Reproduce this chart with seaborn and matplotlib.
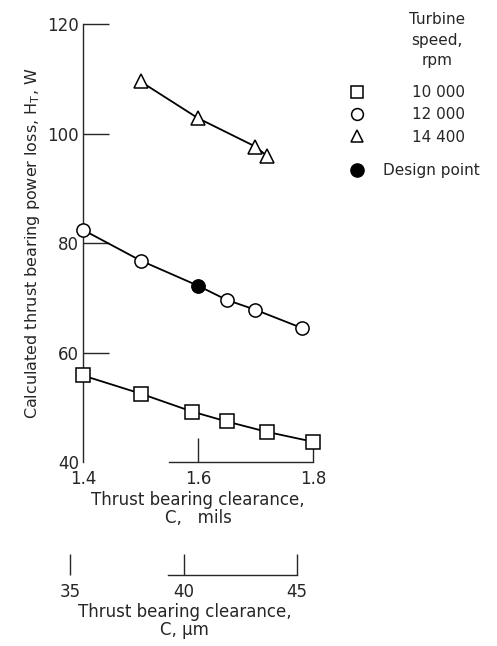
import matplotlib
matplotlib.use("Agg")
import matplotlib.pyplot as plt
from matplotlib.lines import Line2D
import seaborn as sns
import pandas as pd

# values
clearance_10000 = [1.40, 1.50, 1.59, 1.65, 1.72, 1.80]
loss_10000 = [55.8, 52.5, 49.2, 47.4, 45.5, 43.7]
clearance_12000 = [1.40, 1.50, 1.60, 1.65, 1.70, 1.78]
loss_12000 = [82.4, 76.8, 72.2, 69.6, 67.8, 64.5]
clearance_14400 = [1.50, 1.60, 1.70, 1.72]
loss_14400 = [109.5, 102.8, 97.6, 95.9]
design_clearance = [1.60]
design_loss = [72.2]

speed_labels = ["10 000", "12 000", "14 400"]
speed_markers = ["s", "o", "^"]
mils_ticks = [1.4, 1.6, 1.8]
mils_ticklabels = ["1.4", "1.6", "1.8"]
loss_ticks = [40, 60, 80, 100, 120]
um_ticks = [35, 40, 45]
UM_PER_MIL = 25.4

sns.set_style("ticks")
plt.rcParams['font.family'] = ['DejaVu Sans']

fig = plt.figure(figsize=(4.97, 6.46), dpi=100)
ax = fig.add_axes([83 / 497, 1 - 462 / 646, 230 / 497, 438 / 646])

series = [(clearance_10000, loss_10000), (clearance_12000, loss_12000), (clearance_14400, loss_14400)]
for (xs, ys), lab, mk in zip(series, speed_labels, speed_markers):
    df = pd.DataFrame({"clearance": xs, "loss": ys})
    sns.lineplot(data=df, x="clearance", y="loss", ax=ax, color="black", lw=1.3,
                 marker=mk, markersize=10 if mk == "^" else 9.5, mfc="white", mec="black",
                 mew=1.1, clip_on=False, zorder=3, legend=False)

sns.scatterplot(x=design_clearance, y=design_loss, ax=ax, color="black", s=85,
                edgecolor="black", zorder=4, clip_on=False, legend=False)

ax.set_xlim(1.4, 1.8)
ax.set_ylim(40, 120)
ax.set_xticks(mils_ticks)
ax.set_xticklabels(mils_ticklabels)
ax.set_yticks(loss_ticks)
ax.tick_params(axis="y", direction="in", length=19, width=1, pad=3, labelsize=12)
ax.tick_params(axis="x", direction="in", length=17, width=1, pad=6, labelsize=12)
ax.yaxis.get_major_ticks()[0].tick1line.set_visible(False)
ax.xaxis.get_major_ticks()[0].tick1line.set_visible(False)
sns.despine(ax=ax)
ax.spines["bottom"].set_bounds(1.55, 1.8)
ax.spines["left"].set_linewidth(1.0)
ax.spines["bottom"].set_linewidth(1.0)
ax.set_xlabel("Thrust bearing clearance,\nC,   mils", fontsize=12, labelpad=2, linespacing=1.0)
ax.set_ylabel("Calculated thrust bearing power loss, H$_\\mathrm{T}$, W", fontsize=11.5, labelpad=4)

# second scale in micrometres, drawn below the first one
um_lim = (34.5, 45.6)
pos = ax.get_position()
frac = lambda u: pos.x0 + (u / UM_PER_MIL - 1.4) / 0.4 * pos.width
ax2 = fig.add_axes([frac(um_lim[0]), 1 - 575 / 646, frac(um_lim[1]) - frac(um_lim[0]), 0.0001])
ax2.set_xlim(*um_lim)
ax2.set_xticks(um_ticks)
ax2.set_yticks([])
ax2.patch.set_visible(False)
for side in ["top", "left", "right"]:
    ax2.spines[side].set_visible(False)
ax2.spines["bottom"].set_bounds(39.3, 45)
ax2.spines["bottom"].set_linewidth(1.0)
ax2.tick_params(axis="x", direction="in", length=15, width=1, pad=6, labelsize=12)
ax2.set_xlabel("Thrust bearing clearance,\nC, \u00b5m", fontsize=12, labelpad=1, linespacing=1.0)

# legend
fig.text(437 / 497, 1 - 40 / 646, "Turbine\nspeed,\nrpm", ha="center", va="center",
         fontsize=11, linespacing=1.5)
handles = [Line2D([], [], ls="none", marker=m, markersize=8.5, mfc="white", mec="black", mew=1.1)
           for m in speed_markers]
leg1 = fig.legend(handles, speed_labels, loc="upper left", bbox_to_anchor=(342 / 497, 1 - 85 / 646),
                  frameon=False, fontsize=11, borderpad=0, borderaxespad=0, handlelength=2,
                  handletextpad=2.6, labelspacing=0.48)
dp = [Line2D([], [], ls="none", marker="o", markersize=9.5, mfc="black", mec="black")]
fig.legend(dp, ["Design point"], loc="upper left", bbox_to_anchor=(342 / 497, 1 - 163 / 646),
           frameon=False, fontsize=11, borderpad=0, borderaxespad=0, handlelength=2,
           handletextpad=0.7)

fig.savefig("out.png", dpi=100)
